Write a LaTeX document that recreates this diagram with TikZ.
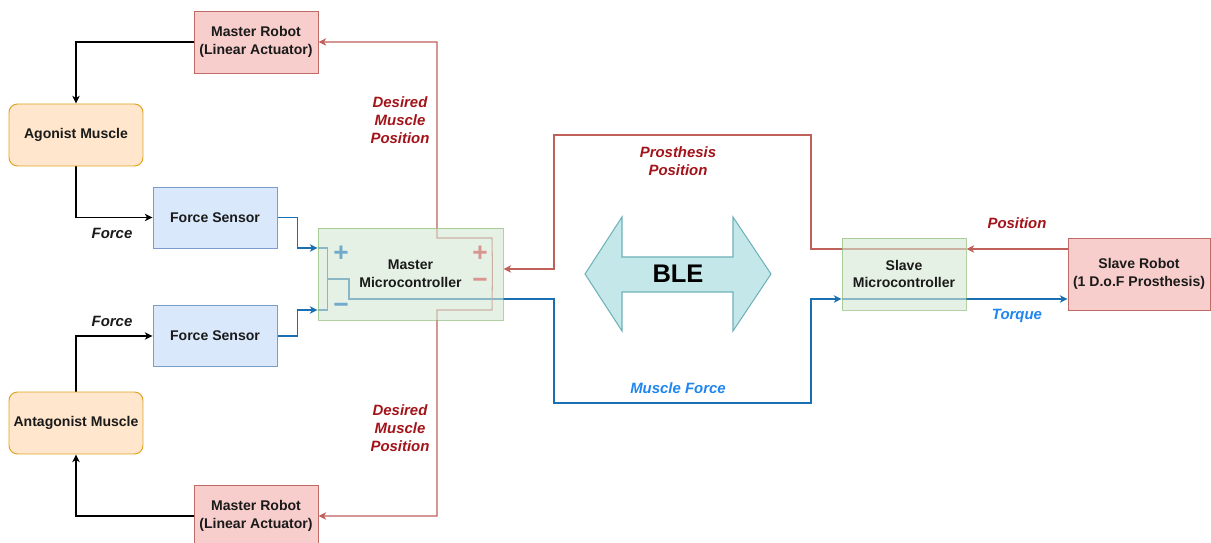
\documentclass[tikz,border=0pt]{standalone}
\usepackage{fontspec}
\setmainfont{Liberation Sans}
\usetikzlibrary{arrows.meta,calc}
\definecolor{redfill}{HTML}{F8CECC}
\definecolor{redline}{HTML}{C06A66}
\definecolor{orfill}{HTML}{FFE6CC}
\definecolor{orline}{HTML}{DDA520}
\definecolor{blfill}{HTML}{DAE8FC}
\definecolor{blline}{HTML}{7C9CCB}
\definecolor{grfill}{HTML}{D5E8D4}
\definecolor{grline}{HTML}{82B366}
\definecolor{conblue}{HTML}{1A6FB0}
\definecolor{conred}{HTML}{C0605A}
\definecolor{txtred}{HTML}{A3141A}
\definecolor{txtblue}{HTML}{1F86F0}
\definecolor{blefill}{HTML}{C4E8EA}
\definecolor{bleline}{HTML}{6FB2B8}
\definecolor{sgnblue}{HTML}{72AACB}
\definecolor{sgnred}{HTML}{D9958F}
\definecolor{txtdark}{HTML}{1A1A1A}
\pgfdeclarelayer{bg}
\pgfsetlayers{bg,main}
\begin{document}
\begin{tikzpicture}[x=0.02cm,y=-0.02cm,
  >={Stealth[length=4.4pt,width=4.2pt,inset=1.3pt]},
  box/.style={draw,line width=0.55pt,align=center,inner sep=0pt,text=txtdark,
    font=\fontsize{8}{10.2}\selectfont\bfseries},
  redbox/.style={box,fill=redfill,draw=redline},
  orbox/.style={box,fill=orfill,draw=orline,rounded corners=0.17cm,
    minimum width=2.68cm,minimum height=1.24cm},
  blbox/.style={box,fill=blfill,draw=blline,minimum width=2.48cm,minimum height=1.22cm},
  grbox/.style={box,fill=grfill,draw=grline,opacity=0.6,text opacity=1},
  lbl/.style={align=center,inner sep=0pt,font=\fontsize{8.5}{10.3}\selectfont\bfseries\itshape},
  con/.style={line width=0.6pt},
  sgn/.style={inner sep=0pt,font=\fontsize{15}{15}\selectfont\bfseries}]
\useasboundingbox (0,0) rectangle (1211,543);
\begin{pgfonlayer}{bg}
\fill[white] (0,0) rectangle (1211,543);
\end{pgfonlayer}
\clip (0,0) rectangle (1211,543);

% nodes
\node[redbox,minimum width=2.48cm,minimum height=1.24cm] (mr1) at (256,42) {Master Robot\\(Linear Actuator)};
\node[orbox] (ag) at (76,135) {Agonist Muscle};
\node[blbox] (fs1) at (215,217.5) {Force Sensor};
\node[grbox,minimum width=3.7cm,minimum height=1.84cm] (mm) at (410.5,274) {Master\\Microcontroller};
\node[blbox] (fs2) at (215,336) {Force Sensor};
\node[orbox] (ag2) at (76,423) {Antagonist Muscle};
\node[redbox,minimum width=2.48cm,minimum height=1.24cm] (mr2) at (256,516) {Master Robot\\(Linear Actuator)};
\node[grbox,minimum width=2.48cm,minimum height=1.44cm] (sm) at (904,274) {Slave\\Microcontroller};
\node[redbox,minimum width=2.84cm,minimum height=1.44cm] (sr) at (1139,274) {Slave Robot\\(1 D.o.F Prosthesis)};

% BLE double arrow
\draw[fill=blefill,draw=bleline,line width=0.6pt]
  (585,274) -- (622,217) -- (622,257) -- (733,257) -- (733,217) -- (771,274)
  -- (733,331) -- (733,292) -- (622,292) -- (622,331) -- cycle;
\node[inner sep=0pt,font=\fontsize{14.5}{17}\selectfont\bfseries] (ble) at (678,274) {BLE};

% signs
\node[sgn,text=sgnblue] (bplus) at (341,254) {+};
\node[sgn,text=sgnblue] (bminus) at (341,308) {−};
\node[sgn,text=sgnred] (rplus) at (480,254) {+};
\node[sgn,text=sgnred] (rminus) at (480,283) {−};

% labels
\node[lbl,text=txtdark] (lforce1) at (112,233) {Force};
\node[lbl,text=txtdark] (lforce2) at (112,321) {Force};
\node[lbl,text=txtred] (ldes1) at (400,120) {Desired\\Muscle\\Position};
\node[lbl,text=txtred] (ldes2) at (400,428.5) {Desired\\Muscle\\Position};
\node[lbl,text=txtred] (lpros) at (678,161.5) {Prosthesis\\Position};
\node[lbl,text=txtblue] (lmf) at (678,388) {Muscle Force};
\node[lbl,text=txtred] (lpos) at (1017,223) {Position};
\node[lbl,text=txtblue] (ltor) at (1017,316) {Torque};

\begin{pgfonlayer}{bg}
% black
\draw[con,->] (mr1.west) -| (ag.north);
\draw[con,->] (ag.south) |- (fs1.west);
\draw[con,->] (ag2.north) |- (fs2.west);
\draw[con,->] (mr2.west) -| (ag2.south);
% blue
\draw[con,conblue,->] (fs1.east) -- ++(20,0) |- ($(mm.west)+(0,-26)$);
\draw[con,conblue,->] (fs2.east) -- ++(20,0) |- ($(mm.west)+(0,36)$);
\draw[con,conblue] ($(mm.west)+(0,-26)$) -- ++(10,0) -- ++(0,62) -- ++(-10,0);
\draw[con,conblue,->] ($(mm.west)+(10,5)$) -- (349,279) -- (349,299) -- (554,299)
  -- (554,403) -- (811,403) -- (811,299) -- ($(sm.west)+(0,25)$);
\draw[con,conblue,->] ($(sm.west)+(0,25)$) -- ($(sr.west)+(0,25)$);
% red
\draw[con,conred,->] ($(sr.west)+(0,-25)$) -- ($(sm.east)+(0,-25)$);
\draw[con,conred,->] ($(sm.east)+(0,-25)$) -- (811,249) -- (811,135) -- (554,135)
  -- (554,269) -- ($(mm.east)+(0,-5)$);
\draw[con,conred,->] ($(mm.east)+(-11,-5)$) -- (492,238) -- (437,238) |- (mr1.east);
\draw[con,conred,->] ($(mm.east)+(-11,-5)$) -- (492,310) -- (437,310) |- (mr2.east);
\end{pgfonlayer}
\end{tikzpicture}
\end{document}
